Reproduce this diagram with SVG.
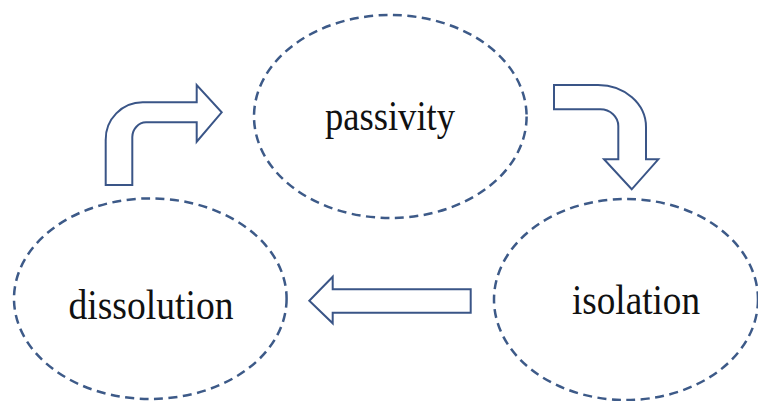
<svg xmlns="http://www.w3.org/2000/svg" width="758" height="401" viewBox="0 0 758 401">
<style>
.node{fill:none;stroke:#3D5A88;stroke-width:2.5;stroke-dasharray:9 5.5}
.lbl{font-family:"Liberation Serif","Times New Roman",serif;font-size:43px;fill:#111}
.arr{fill:#fff;stroke:#3A5587;stroke-width:2;stroke-linejoin:miter}
</style>
<rect width="758" height="401" fill="#fff"/>
<g id="connectors">
<path class="arr" d="M105.7,185 L105.7,140 A37,37 0 0 1 142.7,102.3 L196.7,102.3 L196.7,85 L221.7,112.3 L196.7,141.7 L196.7,122.3 L146,122.3 A14,15 0 0 0 132.3,137 L132.3,185 Z"/>
<path class="arr" d="M554,85 L598,85 A48,42 0 0 1 646,127 L646,159.3 L658.3,159.3 L631.7,189.3 L604,159.3 L618.3,159.3 L618.3,126 A18,16.7 0 0 0 600.3,109.3 L554,109.3 Z"/>
<path class="arr" d="M470.7,289.3 L332.7,289.3 L332.7,276.7 L309.3,300.7 L332.7,323.3 L332.7,312.7 L470.7,312.7 Z"/>
</g>
<g id="passivity">
<ellipse class="node" cx="390.3" cy="116.5" rx="136.3" ry="101.5"/>
<text class="lbl" x="325" y="129.5" textLength="130" lengthAdjust="spacingAndGlyphs">passivity</text>
</g>
<g id="isolation">
<ellipse class="node" cx="626" cy="299.5" rx="132" ry="100.5"/>
<text class="lbl" x="572" y="313.5" textLength="128" lengthAdjust="spacingAndGlyphs">isolation</text>
</g>
<g id="dissolution">
<ellipse class="node" cx="150.3" cy="298.7" rx="136.3" ry="100.3"/>
<text class="lbl" x="68.5" y="318.5" textLength="165" lengthAdjust="spacingAndGlyphs">dissolution</text>
</g>
</svg>
